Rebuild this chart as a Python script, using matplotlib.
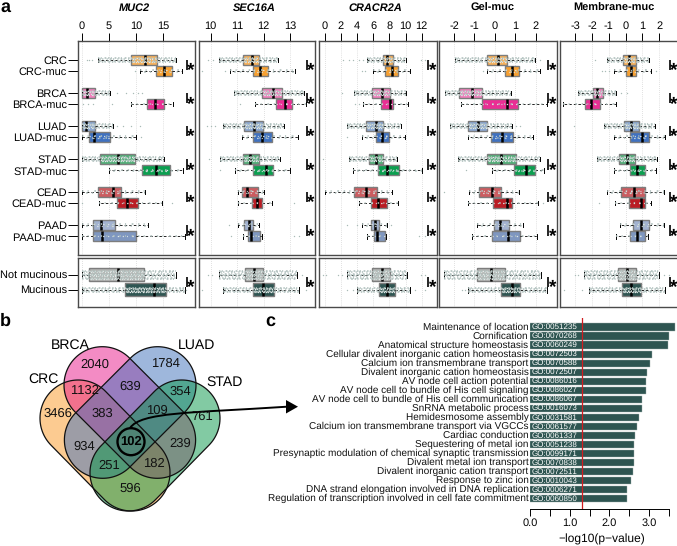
import numpy as np
import matplotlib
matplotlib.use('Agg')
from matplotlib import pyplot as plt
from matplotlib.path import Path
from matplotlib.patches import PathPatch, Polygon, Circle

plt.rcParams['font.family'] = ['Liberation Sans', 'DejaVu Sans']
plt.rcParams['axes.unicode_minus'] = False
plt.rcParams['text.hinting'] = 'no_hinting'
plt.rcParams['text.hinting_factor'] = 1

W, H = 677, 546

# Panel a: rows
groups = ['CRC', 'CRC-muc', 'BRCA', 'BRCA-muc', 'LUAD', 'LUAD-muc', 'STAD', 'STAD-muc',
          'CEAD', 'CEAD-muc', 'PAAD', 'PAAD-muc']
pooled = ['Not mucinous', 'Mucinous']
group_colors = ['#F7B05A', '#F7A031', '#F07FBC', '#EA2E94', '#8BA8D2', '#3F71C0', '#52AE78', '#0B9F50',
                '#CB5C60', '#BA1C24', '#A2B2D0', '#7F97C0']
pooled_colors = ['#B4B6B4', '#2F5552']
# how many dotted rows stand in for the jittered samples of each group
cloud_rows = [4, 2, 4, 1, 4, 2, 4, 2, 2, 1, 2, 1, 7, 4]

# (q1, median, q3, whisker low, whisker high)
muc2_box = [(9.0, 11.6, 13.9, 2.9, 17.4), (13.7, 15.2, 16.5, 10.7, 18.5), (0, 0.9, 2.4, 0, 5.2),
            (11.9, 13.5, 15.1, 9.1, 16.8), (0, 0.8, 2.4, 0, 5.8), (1.4, 2.3, 5.2, 0, 10),
            (3.4, 6.7, 9.8, 0.1, 15.1), (11, 13.7, 16.3, 5, 18.6), (2.9, 5.8, 7.3, 0, 11.6),
            (6.4, 8.4, 10.4, 3.2, 14.8), (2, 3.5, 6.2, 0, 12.2), (2.1, 3.7, 10, 0, 18.9),
            (1.4, 6.6, 11.5, 0, 17.3), (8, 13.3, 15.4, 0, 18.9)]
muc2_out = [[1, 1.3, 1.8], [9.8], [6.5, 8.1, 9.5, 10.4, 11], [0.3, 1.2, 2, 5.5], [6.4, 7.6, 9.1, 10.7], [10.8],
            [], [], [], [0, 16.6], [], [], [], [19.1]]

sec16a_box = [(11.22, 11.55, 11.83, 10.3, 12.53), (11.58, 11.87, 12.17, 10.73, 13.19),
              (11.94, 12.35, 12.69, 10.88, 13.53), (12.45, 12.79, 13.09, 11.69, 13.59),
              (11.27, 11.64, 11.99, 10.45, 12.77), (11.61, 11.95, 12.31, 11.17, 13.29),
              (11.22, 11.49, 11.83, 10.35, 12.62), (11.61, 12.08, 12.35, 10.9, 12.98),
              (11.2, 11.39, 11.8, 11.05, 12.0), (11.55, 11.74, 11.94, 11.02, 12.31),
              (11.24, 11.43, 11.59, 11.02, 11.84), (11.42, 11.51, 11.87, 11.21, 11.93),
              (11.3, 11.64, 11.97, 10.3, 13.25), (11.61, 11.99, 12.38, 10.45, 13.35)]
sec16a_out = [[9.9, 10.1], [9.68, 10.54], [], [11.11], [9.87, 10, 10.16], [], [9.94], [10.35], [], [13.15],
              [10.69], [10.76, 13.15, 13.32], [9.9, 10.04, 13.44], [9.68, 13.6]]

cracr2a_box = [(7.18, 7.75, 8.41, 5.2, 10.06), (7.5, 8.29, 9.11, 5.94, 10.56), (5.9, 7.05, 8.08, 3.63, 10.06),
               (6.93, 8.08, 8.49, 4.78, 10.27), (5.11, 6.31, 7.26, 2.72, 9.4), (6.35, 7.05, 7.92, 4.58, 9.94),
               (5.53, 6.31, 7.26, 3.05, 8.91), (6.64, 7.75, 9.15, 3.55, 12), (3.67, 5.07, 6.43, 0, 8.37),
               (5.77, 6.64, 7.75, 4.29, 9.11), (5.77, 6.23, 6.68, 4.58, 7.67), (6.1, 6.43, 7.42, 5.28, 7.59),
               (5.9, 7.13, 8.08, 2.72, 10.14), (6.76, 7.75, 8.74, 4.04, 10.56)]
cracr2a_out = [[2.3, 3.05, 3.55, 4.3, 4.7, 11.9, 12.4], [4.58, 4.99], [2.19], [3.75, 4.25], [], [2.8], [-0.16],
               [], [], [], [2.8, 3.96, 8.16], [11.7, 12.4], [-0.16, 0.12, 1.69, 2.1, 11.88, 12.41],
               [2.72, 3.55, 11.18, 12.41]]

gel_box = [(-0.4, 0.14, 0.58, -1.95, 1.97), (0.51, 0.86, 1.17, -0.37, 2.2), (-1.76, -1.13, -0.64, -2.44, 0.78),
           (-0.64, 0.58, 1.13, -1.66, 2.54), (-1.3, -0.84, -0.4, -2.2, 0.82), (-0.2, 0.37, 0.91, -1.33, 1.85),
           (-0.4, 0.3, 1.02, -1.79, 2.2), (0.94, 1.51, 1.95, -0.16, 2.42), (-0.76, -0.16, 0.29, -1.25, 1.17),
           (-0.07, 0.61, 0.82, -1.3, 2.13), (-0.04, 0.25, 0.71, -0.86, 1.4), (-0.16, 0.63, 1.25, -1.12, 2.08),
           (-0.86, -0.2, 0.48, -2.49, 2.24), (0.32, 0.82, 1.23, -1.3, 2.54)]
gel_out = [[2.2], [-0.56], [], [], [1.04, 1.23], [], [], [-1.41], [-2.49], [2.34], [], [], [], [-1.62, -1.46]]

membrane_box = [(-0.14, 0.2, 0.6, -1.1, 1.4), (0.04, 0.3, 0.64, -0.66, 1.5), (-1.96, -1.7, -1.36, -2.84, -0.56),
                (-2.4, -2.04, -1.52, -3.7, -0.56), (-0.08, 0.34, 0.8, -1.3, 1.74), (0.26, 0.96, 1.42, -0.7, 2.36),
                (-0.4, 0.06, 0.56, -1.7, 1.9), (0.26, 0.7, 1.16, -0.7, 1.84), (-0.3, 0.5, 1.16, -1.1, 2.3),
                (0.2, 0.9, 1.14, -0.64, 1.5), (0.46, 0.94, 1.4, -0.34, 2.26), (0.26, 0.7, 1.16, -0.54, 1.36),
                (-0.46, 0.1, 0.6, -2.5, 2), (-0.2, 0.3, 0.94, -2.2, 2.34)]
membrane_out = [[-1.8], [-1.4, -1.2, -1, 1.84], [-0.3, 0.1], [], [-3.04], [], [], [], [], [-1.6], [], [],
                [-3, -2.8, 2.3, 2.6], [-3.66, -2.6]]

panel_titles = ['MUC2', 'SEC16A', 'CRACR2A', 'Gel-muc', 'Membrane-muc']
panel_boxes = [muc2_box, sec16a_box, cracr2a_box, gel_box, membrane_box]
panel_outliers = [muc2_out, sec16a_out, cracr2a_out, gel_out, membrane_out]
panel_ticks = [[0, 5, 10, 15], [10, 11, 12, 13], [0, 2, 4, 6, 8, 10, 12], [-2, -1, 0, 1, 2], [-3, -2, -1, 0, 1, 2]]
panel_xlims = [(-0.68, 20.8), (9.54, 13.94), (-0.77, 13.86), (-2.74, 3.03), (-3.9, 3.12)]

# Panel b: set sizes, sets in drawing order
venn_sets = ['CRC', 'BRCA', 'LUAD', 'STAD']
venn_colors = ['#FB9825', '#E9198B', '#3F71BB', '#079748']
venn_counts = ['2040', '1784', '3466', '1132', '639', '354', '383', '109', '761', '934', '239', '251', '182', '596']

# Panel c: enrichment
go_terms = ['Maintenance of location', 'Cornification', 'Anatomical structure homeostasis',
            'Cellular divalent inorganic cation homeostasis', 'Calcium ion transmembrane transport',
            'Divalent inorganic cation homeostasis', 'AV node cell action potential',
            'AV node cell to bundle of His cell signaling', 'AV node cell to bundle of His cell communication',
            'SnRNA metabolic process', 'Hemidesmosome assembly', 'Calcium ion transmembrane transport via VGCCs',
            'Cardiac conduction', 'Sequestering of metal ion',
            'Presynaptic modulation of chemical synaptic transmission', 'Divalent metal ion transport',
            'Divalent inorganic cation transport', 'Response to zinc ion',
            'DNA strand elongation involved in DNA replication',
            'Regulation of transcription involved in cell fate commitment']
go_ids = ['GO:0051235', 'GO:0070268', 'GO:0060249', 'GO:0072503', 'GO:0070588', 'GO:0072507', 'GO:0086016',
          'GO:0086027', 'GO:0086067', 'GO:0016073', 'GO:0031581', 'GO:0061577', 'GO:0061337', 'GO:0051238',
          'GO:0099171', 'GO:0070838', 'GO:0072511', 'GO:0010043', 'GO:0006271', 'GO:0060850']
go_values = [3.65, 3.51, 3.47, 3.08, 3.03, 2.95, 2.92, 2.92, 2.83, 2.82, 2.76, 2.69, 2.65, 2.62, 2.62, 2.61,
             2.59, 2.55, 2.45, 2.45]
go_cutoff = 1.3


def px_axes(fig, x0, y0, x1, y1):
    # Axes from pixel edges, y counted from the top of the image
    return fig.add_axes([x0 / W, 1 - y1 / H, (x1 - x0) / W, (y1 - y0) / H])


def draw_boxes(ax, boxes, outliers, rows, colors, clouds, height):
    stats = []
    for (q1, med, q3, lo, hi), fl in zip(boxes, outliers):
        stats.append({'q1': q1, 'med': med, 'q3': q3, 'whislo': lo, 'whishi': hi, 'fliers': fl})
    art = ax.bxp(stats, positions=rows, widths=height, orientation='horizontal', patch_artist=True,
                 manage_ticks=False, zorder=2,
                 boxprops={'edgecolor': '#7d7d7d', 'linewidth': 1.0},
                 medianprops={'color': 'black', 'linewidth': 1.8, 'solid_capstyle': 'butt'},
                 whiskerprops={'color': 'black', 'linewidth': 0.6, 'linestyle': (0, (3, 2.5))},
                 capprops={'color': 'black', 'linewidth': 0.7},
                 capwidths=height * 0.45,
                 flierprops={'marker': 'o', 'markersize': 1.0, 'markerfacecolor': '#a8bbb7',
                             'markeredgecolor': 'none'})
    for patch, c in zip(art['boxes'], colors):
        patch.set_facecolor(c)
    # Dotted rows over each box for the sample cloud, uneven gaps so they do not read as hatching
    patterns = [(0.9, 0.8, 0.7, 1.7, 1.1, 1.1), (0.7, 1.4, 1.0, 0.8, 0.8, 2.0), (1.1, 1.2, 0.8, 0.9, 0.7, 1.5)]
    for (q1, med, q3, lo, hi), y, n in zip(boxes, rows, clouds):
        sparse = 1.8 if n <= 2 else 0
        for i in range(n):
            off = (i - (n - 1) / 2) * 1.4
            p = patterns[i % 3]
            pat = (p[0], p[1] + sparse, p[2], p[3] + sparse, p[4], p[5] + sparse)
            ax.plot([lo, hi], [y + off, y + off], color='#aebfbc', lw=1.15, zorder=3,
                    linestyle=(i * 1.3, pat))
            ax.plot([q1, q3], [y + off, y + off], color='#e2e9e8', lw=0.9, zorder=3,
                    linestyle=(i * 0.9, pat))


fig = plt.figure(figsize=(W / 100, H / 100), dpi=100)

# Panel a
panel_edges = [(78, 195), (198.5, 315), (318.5, 436.7), (439, 556.7), (560, 678)]
title_x = [134, 254, 375, 493, 614]
group_rows = [60, 71, 93, 104, 126, 137, 159, 170.5, 192, 203, 225, 236.5]
pooled_rows = [275, 290]

for k, (x0, x1) in enumerate(panel_edges):
    boxes = panel_boxes[k]
    outs = panel_outliers[k]

    top = px_axes(fig, x0, 41, x1, 255)
    top.set_ylim(255, 41)
    bot = px_axes(fig, x0, 258, x1, 307)
    bot.set_ylim(307, 258)

    draw_boxes(top, boxes[:12], outs[:12], group_rows, group_colors, cloud_rows[:12], 10)
    draw_boxes(bot, boxes[12:], outs[12:], pooled_rows, pooled_colors, cloud_rows[12:], 13)

    for ax in (top, bot):
        ax.set_xlim(*panel_xlims[k])
        for t in panel_ticks[k]:
            ax.axvline(t, color='#c4c4c4', lw=0.5, linestyle=(0, (1, 2)), zorder=1)
        for s in ax.spines.values():
            s.set_color('#4a4a4a')
            s.set_linewidth(1.0)
        ax.set_yticks([])

    top.xaxis.tick_top()
    top.set_xticks(panel_ticks[k])
    top.set_xticklabels([str(t) for t in panel_ticks[k]], fontsize=7.9)
    top.tick_params(axis='x', length=5.6, width=0.7, pad=1.5)
    bot.set_xticks([])

    if k == 0:
        top.set_yticks(group_rows)
        top.set_yticklabels(groups, fontsize=7.9)
        bot.set_yticks(pooled_rows)
        bot.set_yticklabels(pooled, fontsize=7.9)
        for ax in (top, bot):
            ax.tick_params(axis='y', length=7, width=0.7, pad=1)

    # Title, italic for the genes
    style = 'italic' if k < 3 else 'normal'
    fig.text(title_x[k] / W, 1 - 8 / H, panel_titles[k], fontsize=8, fontweight='bold', fontstyle=style,
             ha='center', va='center')

    # Significance bars and stars
    for ax, rows in ((top, group_rows), (bot, pooled_rows)):
        for a, b in zip(rows[::2], rows[1::2]):
            tr = ax.get_yaxis_transform()
            pad = 0 if ax is top else 2
            ax.plot([0.93, 0.93], [a + 0.5 + pad, b - 0.5 - pad], color='black', lw=1.2, transform=tr,
                    solid_capstyle='butt')
            ax.text(0.965, (a + b) / 2 + 11, '*', transform=tr, fontsize=14, fontweight='bold', ha='center',
                    va='baseline')

# Panel c
axc = px_axes(fig, 530, 318, 677, 509.3)
rows_c = np.arange(len(go_values))
axc.barh(rows_c, go_values, height=0.8, color='#2E5551', edgecolor='#9fb0ad', linewidth=0.3, zorder=2)
axc.set_xlim(0, 147 / 39.67)
axc.set_ylim(20.17, -0.996)
for y, go_id, term in zip(rows_c, go_ids, go_terms):
    axc.text(0.04, y, go_id, color='white', fontsize=5.75, va='center', ha='left', zorder=3)
    axc.text(-0.04, y, term, color='#111111', fontsize=7, va='center', ha='right', clip_on=False)
axc.plot([go_cutoff, go_cutoff], [20.17, -0.996], color='#D01C1F', lw=0.9, zorder=4)
for name in ('top', 'left', 'right'):
    axc.spines[name].set_visible(False)
axc.spines['bottom'].set_bounds(0, 3.5)
axc.spines['bottom'].set_linewidth(0.7)
axc.set_yticks([])
axc.set_xticks([0, 0.5, 1, 1.5, 2, 2.5, 3, 3.5])
axc.set_xticklabels(['0.0', '', '1.0', '', '2.0', '', '3.0', ''], fontsize=7.8)
axc.tick_params(axis='x', length=5, width=0.7, pad=1.5)

# Overlay in pixel coordinates for the Venn diagram and panel letters
ov = fig.add_axes([0, 0, 1, 1], zorder=10)
ov.set_xlim(0, W)
ov.set_ylim(H, 0)
ov.axis('off')
ov.patch.set_alpha(0)


def stadium(c1, c2, r):
    # Outline of a rounded bar between the two arc centres
    a = np.arctan2(c2[1] - c1[1], c2[0] - c1[0])
    t1 = np.linspace(a + np.pi / 2, a + 3 * np.pi / 2, 60)
    t2 = np.linspace(a - np.pi / 2, a + np.pi / 2, 60)
    xs = np.r_[c1[0] + r * np.cos(t1), c2[0] + r * np.cos(t2)]
    ys = np.r_[c1[1] + r * np.sin(t1), c2[1] + r * np.sin(t2)]
    return np.c_[xs, ys]


venn_centres = [((78.3, 418.3), (131.7, 472.7)), ((102.3, 385), (157.3, 440)),
                ((157.7, 385), (102.7, 440)), ((181.7, 418.3), (128.3, 472.7))]
for i in range(4):
    pts = stadium(venn_centres[i][0], venn_centres[i][1], 38.3)
    ov.add_patch(Polygon(pts, closed=True, facecolor=venn_colors[i], alpha=0.5, edgecolor='none'))
for i in range(4):
    pts = stadium(venn_centres[i][0], venn_centres[i][1], 38.3)
    ov.add_patch(Polygon(pts, closed=True, facecolor='none', edgecolor='#111111', lw=0.9))

venn_label_pos = [(43, 379), (70, 345), (197, 345), (225, 382)]
for name, (x, y) in zip(venn_sets, venn_label_pos):
    ov.text(x, y, name, fontsize=10.2, ha='center', va='center')
count_pos = [(95, 365), (165, 364), (57.5, 414), (84, 391), (130, 386.7), (180.7, 391.7), (102.7, 414),
             (156.7, 410.7), (202.3, 416.7), (84, 446.7), (180, 443.3), (109, 465.7), (154.3, 463.3), (130, 489)]
for name, (x, y) in zip(venn_counts, count_pos):
    ov.text(x, y, name, fontsize=9.1, ha='center', va='center', color='#111111')
ov.text(131, 441.5, '102', fontsize=9.1, fontweight='bold', ha='center', va='center')
ov.add_patch(Circle((131, 441.7), 13.5, facecolor='none', edgecolor='black', lw=1.7))

# Arrow from the 102 region to panel c
arrow = Path([(130, 428), (141, 412), (190, 413), (287, 406.7)],
             [Path.MOVETO, Path.CURVE4, Path.CURVE4, Path.CURVE4])
ov.add_patch(PathPatch(arrow, facecolor='none', edgecolor='black', lw=1.4))
ov.add_patch(Polygon([(286, 400), (286, 413.5), (298, 406.7)], closed=True, facecolor='black', edgecolor='none'))

# Panel letters and axis caption
ov.text(5, 7, 'a', fontsize=13, fontweight='bold', ha='center', va='center')
ov.text(5, 321, 'b', fontsize=13, fontweight='bold', ha='center', va='center')
ov.text(270, 321, 'c', fontsize=13, fontweight='bold', ha='center', va='center')
ov.text(601.7, 539, '\u2212log10(p\u2212value)', fontsize=8.6, ha='center', va='center')

fig.savefig('out.png', dpi=100)
